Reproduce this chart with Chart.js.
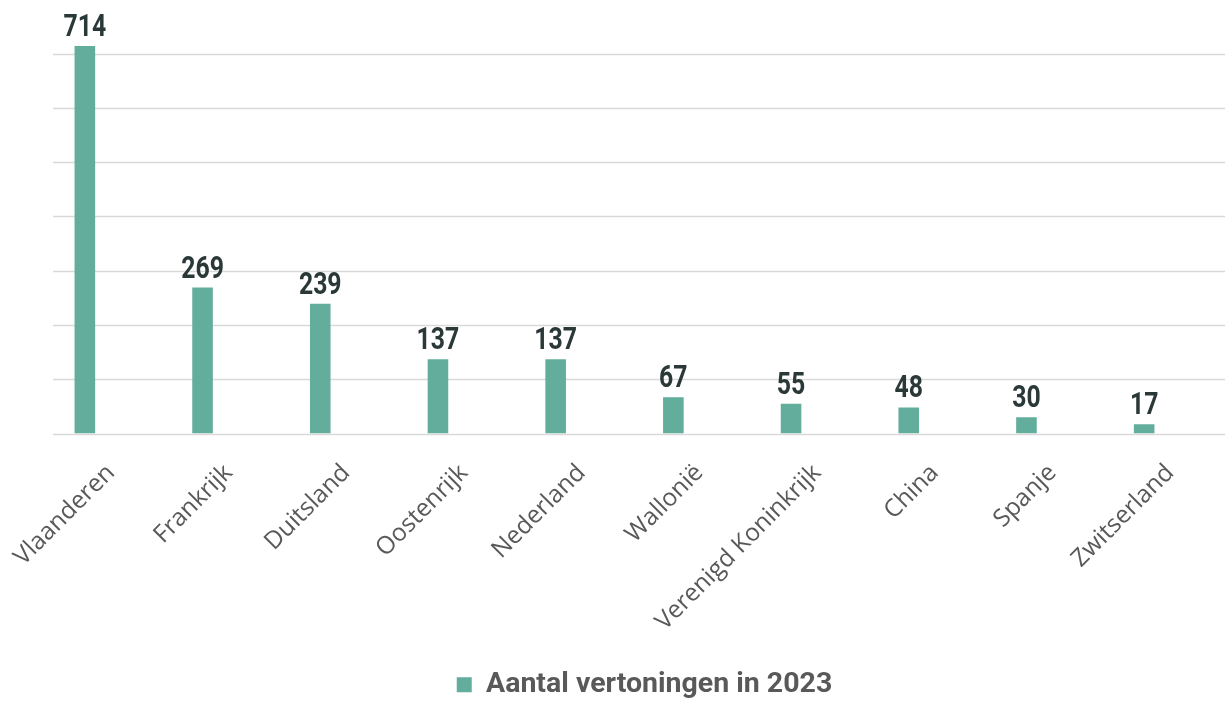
<!DOCTYPE html>
<html>
<head>
<meta charset="utf-8">
<script src="https://cdn.jsdelivr.net/npm/chart.js@4/dist/chart.umd.min.js"></script>
<style>
  html, body { margin: 0; padding: 0; background: #fff; }
  #wrap { width: 1225px; height: 702px; }
</style>
</head>
<body>
<div id="wrap"><canvas id="vertoningen"></canvas></div>
<script>
// Vertoningen per land
const landen = ["Vlaanderen", "Frankrijk", "Duitsland", "Oostenrijk", "Nederland",
  "Wallonië", "Verenigd Koninkrijk", "China", "Spanje", "Zwitserland"];
const aantallen = [714, 269, 239, 137, 137, 67, 55, 48, 30, 17];
const reeksNaam = "Aantal vertoningen in 2023";
const rasterWaarden = [0, 100, 200, 300, 400, 500, 600, 700];

const groen = "#63ad9c";

// horizontal gridlines, running from a bit right of the left edge to the canvas end
const rasterPlugin = {
  id: "raster",
  beforeDatasetsDraw(chart) {
    const ctx = chart.ctx;
    const y = chart.scales.y;
    ctx.save();
    ctx.strokeStyle = "#d9d9d9";
    ctx.lineWidth = 1.3;
    rasterWaarden.forEach(v => {
      let py = Math.round(y.getPixelForValue(v)) + 0.5;
      ctx.beginPath();
      ctx.moveTo(53, py);
      ctx.lineTo(chart.width, py);
      ctx.stroke();
    });
    ctx.restore();
  }
};

// value above each bar, in a narrowed bold face
const waardePlugin = {
  id: "waarden",
  afterDatasetsDraw(chart) {
    const ctx = chart.ctx;
    const meta = chart.getDatasetMeta(0);
    ctx.save();
    ctx.fillStyle = "#2b3838";
    ctx.font = "bold 31px Roboto, sans-serif";
    ctx.textAlign = "center";
    ctx.textBaseline = "alphabetic";
    meta.data.forEach((bar, i) => {
      ctx.save();
      ctx.translate(bar.x, bar.y - 10);
      ctx.scale(0.8, 1);
      ctx.fillText(String(aantallen[i]), 0, 0);
      ctx.restore();
    });
    ctx.restore();
  }
};

// legend sits a little right of centre and lower
const legendaPlugin = {
  id: "legendaSchuif",
  afterLayout(chart) {
    chart.legend.left += 30;
    chart.legend.right += 30;
    chart.legend.top += 9;
    chart.legend.bottom += 9;
  }
};

new Chart(document.getElementById("vertoningen"), {
  type: "bar",
  data: {
    labels: landen,
    datasets: [{
      label: reeksNaam,
      data: aantallen,
      backgroundColor: groen,
      categoryPercentage: 1,
      barPercentage: 0.175
    }]
  },
  options: {
    responsive: true,
    maintainAspectRatio: false,
    animation: false,
    layout: { padding: { left: 26, right: 22, top: 46, bottom: 2 } },
    plugins: {
      legend: {
        position: "bottom",
        labels: {
          boxWidth: 15,
          boxHeight: 15,
          padding: 10,
          color: "#595959",
          font: { family: "Roboto, sans-serif", weight: "bold", size: 28.5 }
        }
      },
      tooltip: { enabled: false }
    },
    scales: {
      x: {
        grid: { display: false },
        border: { display: false },
        afterFit(scale) {
          scale.paddingLeft = 0;
          scale.paddingRight = 0;
          scale.height = 218;
        },
        ticks: {
          color: "#595959",
          font: { family: "'Open Sans', sans-serif", size: 24.5 },
          minRotation: 45,
          maxRotation: 45,
          padding: 17,
          labelOffset: 26
        }
      },
      y: {
        display: false,
        min: 0,
        max: 714
      }
    }
  },
  plugins: [rasterPlugin, waardePlugin, legendaPlugin]
});
</script>
</body>
</html>
